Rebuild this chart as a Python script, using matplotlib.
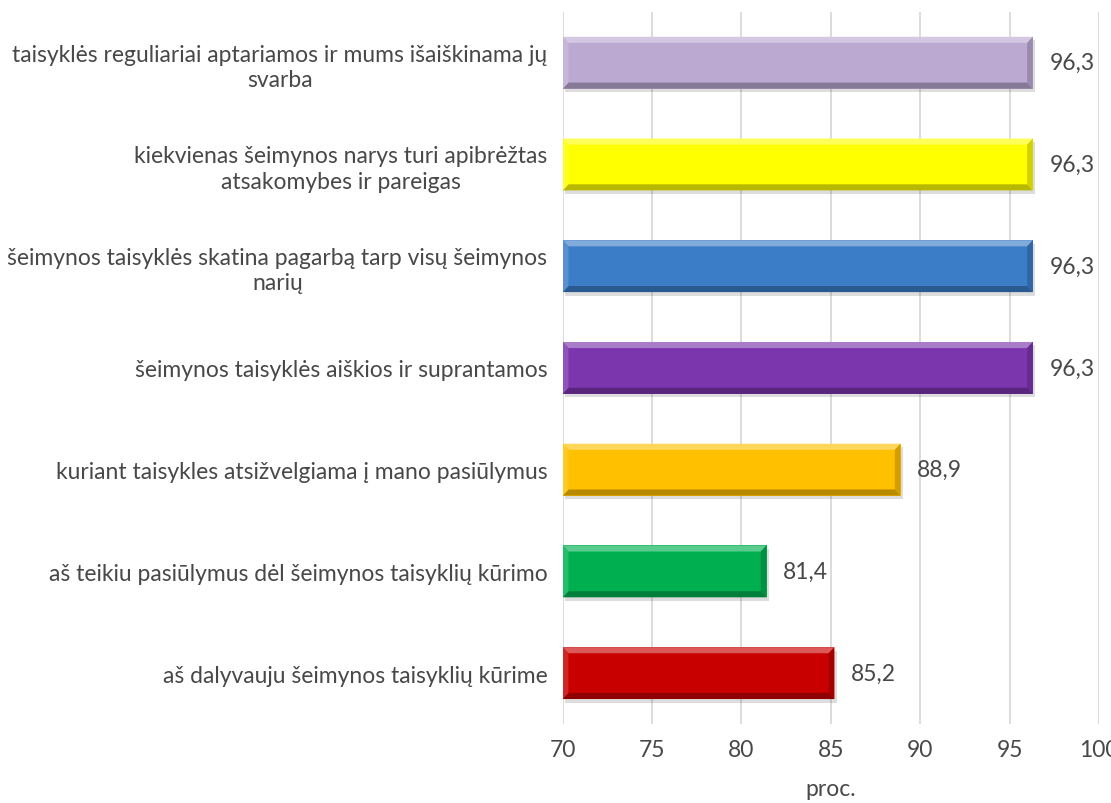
import matplotlib
matplotlib.use("Agg")
import matplotlib.pyplot as plt
import matplotlib.patheffects as pe
from matplotlib.patches import Polygon
import matplotlib.colors as mcolors
import numpy as np

categories = [
    "aš dalyvauju šeimynos taisyklių kūrime",
    "aš teikiu pasiūlymus dėl šeimynos taisyklių kūrimo",
    "kuriant taisykles atsižvelgiama į mano pasiūlymus",
    "šeimynos taisyklės aiškios ir suprantamos",
    "šeimynos taisyklės skatina pagarbą tarp visų šeimynos\nnarių",
    "kiekvienas šeimynos narys turi apibrėžtas\natsakomybes ir pareigas",
    "taisyklės reguliariai aptariamos ir mums išaiškinama jų\nsvarba",
]
values = [85.2, 81.4, 88.9, 96.3, 96.3, 96.3, 96.3]
value_labels = ["85,2", "81,4", "88,9", "96,3", "96,3", "96,3", "96,3"]
colors = ["#C80000", "#00B050", "#FFC000", "#7B35AD", "#3C7DC8", "#FFFF00", "#BCA9D2"]
xticks = [70, 75, 80, 85, 90, 95, 100]

plt.rcParams['font.family'] = ['Lato', 'DejaVu Sans']
FS = 16.5
TC = '#484848'
fig = plt.figure(figsize=(11.11, 8.04), dpi=100)
ax = fig.add_axes([0.5065, 0.0983, 0.4827, 0.8857])

xmin = 70
y = np.arange(len(categories))
bars = ax.barh(y, [v - xmin for v in values], left=xmin, height=0.51, color=colors,
               zorder=3,
               path_effects=[pe.SimplePatchShadow(offset=(1.5, -2.5), alpha=0.18, shadow_rgbFace='#444444'),
                             pe.Normal()])

# bevel edges
bx = 0.32  # x bevel in data units
by = 0.06  # y bevel in data units
for b, c in zip(bars, colors):
    x0, y0 = b.get_x(), b.get_y()
    w, h = b.get_width(), b.get_height()
    x1, y1 = x0 + w, y0 + h
    rgb = np.array(mcolors.to_rgb(c))
    light = tuple(rgb + (1 - rgb) * 0.35)
    lightl = tuple(rgb + (1 - rgb) * 0.15)
    dark = tuple(rgb * 0.72)
    darkr = tuple(rgb * 0.82)
    top = Polygon([(x0, y1), (x1, y1), (x1 - bx, y1 - by), (x0 + bx, y1 - by)], closed=True,
                  facecolor=light, edgecolor='none', zorder=4)
    bot = Polygon([(x0, y0), (x1, y0), (x1 - bx, y0 + by), (x0 + bx, y0 + by)], closed=True,
                  facecolor=dark, edgecolor='none', zorder=4)
    left = Polygon([(x0, y0), (x0, y1), (x0 + bx, y1 - by), (x0 + bx, y0 + by)], closed=True,
                   facecolor=lightl, edgecolor='none', zorder=4)
    right = Polygon([(x1, y0), (x1, y1), (x1 - bx, y1 - by), (x1 - bx, y0 + by)], closed=True,
                    facecolor=darkr, edgecolor='none', zorder=4)
    for p in (top, bot, left, right):
        ax.add_patch(p)

for b, lab in zip(bars, value_labels):
    ax.annotate(lab, xy=(b.get_x() + b.get_width(), b.get_y() + b.get_height() / 2),
                xytext=(12, 0), textcoords='offset points', va='center', ha='left',
                fontsize=FS, color=TC)

ax.set_xlim(70, 100)
ax.set_ylim(-0.5, len(categories) - 0.5)
ax.set_xticks(xticks)
ax.set_xticklabels([str(t) for t in xticks])
ax.set_yticks(y)
ax.set_yticklabels(categories, multialignment='center', linespacing=1.25)
ax.tick_params(axis='both', length=0, labelsize=FS, labelcolor=TC)
ax.tick_params(axis='y', pad=11)
ax.tick_params(axis='x', pad=11)
ax.grid(axis='x', color='#D9D9D9', linewidth=1.3, zorder=0)
ax.set_axisbelow(True)
for s in ax.spines.values():
    s.set_visible(False)
ax.set_xlabel("proc.", fontsize=FS, color=TC, labelpad=13)

fig.savefig("out.png", dpi=100)
